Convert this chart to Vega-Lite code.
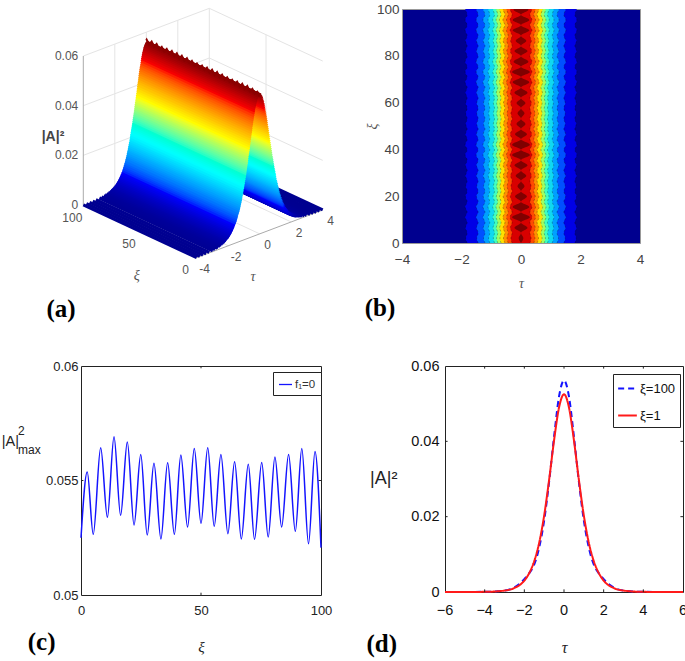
{"$schema":"https://vega.github.io/schema/vega-lite/v6.json","padding":0,"background":"white","spacing":5,
"resolve":{"scale":{"color":"independent","strokeDash":"independent","fill":"independent"},"legend":{"color":"independent","strokeDash":"independent","fill":"independent"}},
"config":{"font":"Liberation Sans","view":{"stroke":null},"axis":{"labelFont":"Liberation Sans","titleFont":"Liberation Serif","titleFontStyle":"italic","titleFontWeight":"normal","grid":false,"domain":false,"ticks":false,"labelFlush":false,"labelOverlap":false}},
"datasets":{
"surface":[{"tau":4.0,"amp":0.00004},{"tau":3.8,"amp":0.00006},{"tau":3.6,"amp":0.00008},{"tau":3.4,"amp":0.00014},{"tau":3.2,"amp":0.00022},{"tau":2.98,"amp":0.00037},{"tau":2.84,"amp":0.0005},{"tau":2.7,"amp":0.00067},{"tau":2.62,"amp":0.00082},{"tau":2.51,"amp":0.00101},{"tau":2.42,"amp":0.00125},{"tau":2.33,"amp":0.00149},{"tau":2.26,"amp":0.00174},{"tau":2.19,"amp":0.002},{"tau":2.12,"amp":0.00234},{"tau":2.05,"amp":0.00269},{"tau":1.98,"amp":0.00304},{"tau":1.93,"amp":0.00339},{"tau":1.875,"amp":0.00383},{"tau":1.82,"amp":0.00427},{"tau":1.775,"amp":0.00472},{"tau":1.73,"amp":0.00517},{"tau":1.685,"amp":0.0057},{"tau":1.64,"amp":0.00624},{"tau":1.59,"amp":0.00689},{"tau":1.54,"amp":0.00754},{"tau":1.5,"amp":0.00815},{"tau":1.47,"amp":0.00875},{"tau":1.43,"amp":0.00943},{"tau":1.4,"amp":0.01012},{"tau":1.36,"amp":0.0109},{"tau":1.32,"amp":0.01168},{"tau":1.29,"amp":0.01233},{"tau":1.26,"amp":0.01299},{"tau":1.235,"amp":0.0137},{"tau":1.21,"amp":0.01442},{"tau":1.185,"amp":0.01506},{"tau":1.16,"amp":0.0157},{"tau":1.14,"amp":0.01639},{"tau":1.12,"amp":0.01708},{"tau":1.095,"amp":0.01781},{"tau":1.07,"amp":0.01855},{"tau":1.045,"amp":0.01942},{"tau":1.02,"amp":0.0203},{"tau":1.005,"amp":0.02095},{"tau":0.99,"amp":0.0216},{"tau":0.97,"amp":0.02227},{"tau":0.95,"amp":0.02294},{"tau":0.93,"amp":0.02365},{"tau":0.91,"amp":0.02436},{"tau":0.89,"amp":0.02509},{"tau":0.87,"amp":0.02582},{"tau":0.855,"amp":0.02658},{"tau":0.84,"amp":0.02734},{"tau":0.82,"amp":0.02812},{"tau":0.8,"amp":0.0289},{"tau":0.78,"amp":0.02971},{"tau":0.76,"amp":0.03052},{"tau":0.745,"amp":0.03134},{"tau":0.73,"amp":0.03217},{"tau":0.71,"amp":0.033},{"tau":0.69,"amp":0.03382},{"tau":0.67,"amp":0.03468},{"tau":0.65,"amp":0.03554},{"tau":0.63,"amp":0.03639},{"tau":0.61,"amp":0.03724},{"tau":0.595,"amp":0.03811},{"tau":0.58,"amp":0.03898},{"tau":0.56,"amp":0.03985},{"tau":0.54,"amp":0.04071},{"tau":0.52,"amp":0.04155},{"tau":0.5,"amp":0.04239},{"tau":0.485,"amp":0.04322},{"tau":0.47,"amp":0.04404},{"tau":0.45,"amp":0.04484},{"tau":0.43,"amp":0.04564},{"tau":0.41,"amp":0.04645},{"tau":0.39,"amp":0.04726},{"tau":0.365,"amp":0.04812},{"tau":0.34,"amp":0.04897},{"tau":0.32,"amp":0.04981},{"tau":0.3,"amp":0.05065},{"tau":0.275,"amp":0.05138},{"tau":0.25,"amp":0.05211},{"tau":0.225,"amp":0.05274},{"tau":0.2,"amp":0.05337},{"tau":0.175,"amp":0.05398},{"tau":0.15,"amp":0.05459},{"tau":0.11,"amp":0.05512},{"tau":0.07,"amp":0.05564},{"tau":0.035,"amp":0.05582},{"tau":0,"amp":0.056},{"tau":-0.035,"amp":0.05582},{"tau":-0.07,"amp":0.05564},{"tau":-0.11,"amp":0.05512},{"tau":-0.15,"amp":0.05459},{"tau":-0.175,"amp":0.05398},{"tau":-0.2,"amp":0.05337},{"tau":-0.225,"amp":0.05274},{"tau":-0.25,"amp":0.05211},{"tau":-0.275,"amp":0.05138},{"tau":-0.3,"amp":0.05065},{"tau":-0.32,"amp":0.04981},{"tau":-0.34,"amp":0.04897},{"tau":-0.365,"amp":0.04812},{"tau":-0.39,"amp":0.04726},{"tau":-0.41,"amp":0.04645},{"tau":-0.43,"amp":0.04564},{"tau":-0.45,"amp":0.04484},{"tau":-0.47,"amp":0.04404},{"tau":-0.485,"amp":0.04322},{"tau":-0.5,"amp":0.04239},{"tau":-0.52,"amp":0.04155},{"tau":-0.54,"amp":0.04071},{"tau":-0.56,"amp":0.03985},{"tau":-0.58,"amp":0.03898},{"tau":-0.595,"amp":0.03811},{"tau":-0.61,"amp":0.03724},{"tau":-0.63,"amp":0.03639},{"tau":-0.65,"amp":0.03554},{"tau":-0.67,"amp":0.03468},{"tau":-0.69,"amp":0.03382},{"tau":-0.71,"amp":0.033},{"tau":-0.73,"amp":0.03217},{"tau":-0.745,"amp":0.03134},{"tau":-0.76,"amp":0.03052},{"tau":-0.78,"amp":0.02971},{"tau":-0.8,"amp":0.0289},{"tau":-0.82,"amp":0.02812},{"tau":-0.84,"amp":0.02734},{"tau":-0.855,"amp":0.02658},{"tau":-0.87,"amp":0.02582},{"tau":-0.89,"amp":0.02509},{"tau":-0.91,"amp":0.02436},{"tau":-0.93,"amp":0.02365},{"tau":-0.95,"amp":0.02294},{"tau":-0.97,"amp":0.02227},{"tau":-0.99,"amp":0.0216},{"tau":-1.005,"amp":0.02095},{"tau":-1.02,"amp":0.0203},{"tau":-1.045,"amp":0.01942},{"tau":-1.07,"amp":0.01855},{"tau":-1.095,"amp":0.01781},{"tau":-1.12,"amp":0.01708},{"tau":-1.14,"amp":0.01639},{"tau":-1.16,"amp":0.0157},{"tau":-1.185,"amp":0.01506},{"tau":-1.21,"amp":0.01442},{"tau":-1.235,"amp":0.0137},{"tau":-1.26,"amp":0.01299},{"tau":-1.29,"amp":0.01233},{"tau":-1.32,"amp":0.01168},{"tau":-1.36,"amp":0.0109},{"tau":-1.4,"amp":0.01012},{"tau":-1.43,"amp":0.00943},{"tau":-1.47,"amp":0.00875},{"tau":-1.5,"amp":0.00815},{"tau":-1.54,"amp":0.00754},{"tau":-1.59,"amp":0.00689},{"tau":-1.64,"amp":0.00624},{"tau":-1.685,"amp":0.0057},{"tau":-1.73,"amp":0.00517},{"tau":-1.775,"amp":0.00472},{"tau":-1.82,"amp":0.00427},{"tau":-1.875,"amp":0.00383},{"tau":-1.93,"amp":0.00339},{"tau":-1.98,"amp":0.00304},{"tau":-2.05,"amp":0.00269},{"tau":-2.12,"amp":0.00234},{"tau":-2.19,"amp":0.002},{"tau":-2.26,"amp":0.00174},{"tau":-2.33,"amp":0.00149},{"tau":-2.42,"amp":0.00125},{"tau":-2.51,"amp":0.00101},{"tau":-2.62,"amp":0.00082},{"tau":-2.7,"amp":0.00067},{"tau":-2.84,"amp":0.0005},{"tau":-2.98,"amp":0.00037},{"tau":-3.2,"amp":0.00022},{"tau":-3.4,"amp":0.00014},{"tau":-3.6,"amp":0.00008},{"tau":-3.8,"amp":0.00006},{"tau":-4.0,"amp":0.00004}],
"ripple":[
{"xi":0,"crest":0.0556,"c1":1.81,"c2":1.44,"c3":1.21,"c4":1.05,"c5":0.89,"c6":0.78,"c7":0.67,"c8":0.54,"c9":0.43,"c10":0.3,"c11":0},
{"xi":2.1,"crest":0.0568,"c1":1.86,"c2":1.49,"c3":1.26,"c4":1.09,"c5":0.93,"c6":0.82,"c7":0.71,"c8":0.59,"c9":0.47,"c10":0.34,"c11":0.08},
{"xi":4.3,"crest":0.0556,"c1":1.81,"c2":1.44,"c3":1.21,"c4":1.05,"c5":0.89,"c6":0.78,"c7":0.67,"c8":0.54,"c9":0.43,"c10":0.3,"c11":0},
{"xi":6.5,"crest":0.057,"c1":1.87,"c2":1.5,"c3":1.27,"c4":1.1,"c5":0.94,"c6":0.83,"c7":0.72,"c8":0.6,"c9":0.48,"c10":0.36,"c11":0.22},
{"xi":8.8,"crest":0.0556,"c1":1.81,"c2":1.44,"c3":1.21,"c4":1.05,"c5":0.89,"c6":0.78,"c7":0.67,"c8":0.54,"c9":0.43,"c10":0.3,"c11":0},
{"xi":11,"crest":0.0572,"c1":1.88,"c2":1.51,"c3":1.28,"c4":1.11,"c5":0.95,"c6":0.84,"c7":0.73,"c8":0.61,"c9":0.49,"c10":0.37,"c11":0.3},
{"xi":13.2,"crest":0.0556,"c1":1.81,"c2":1.44,"c3":1.21,"c4":1.05,"c5":0.89,"c6":0.78,"c7":0.67,"c8":0.54,"c9":0.43,"c10":0.3,"c11":0},
{"xi":15.4,"crest":0.0572,"c1":1.88,"c2":1.51,"c3":1.28,"c4":1.11,"c5":0.95,"c6":0.84,"c7":0.73,"c8":0.61,"c9":0.49,"c10":0.37,"c11":0.28},
{"xi":17.6,"crest":0.0556,"c1":1.81,"c2":1.44,"c3":1.21,"c4":1.05,"c5":0.89,"c6":0.78,"c7":0.67,"c8":0.54,"c9":0.43,"c10":0.3,"c11":0},
{"xi":19.9,"crest":0.0571,"c1":1.87,"c2":1.5,"c3":1.27,"c4":1.1,"c5":0.94,"c6":0.83,"c7":0.72,"c8":0.6,"c9":0.48,"c10":0.36,"c11":0.2},
{"xi":22.1,"crest":0.0556,"c1":1.81,"c2":1.44,"c3":1.21,"c4":1.05,"c5":0.89,"c6":0.78,"c7":0.67,"c8":0.54,"c9":0.43,"c10":0.3,"c11":0},
{"xi":24.3,"crest":0.0569,"c1":1.86,"c2":1.49,"c3":1.26,"c4":1.09,"c5":0.93,"c6":0.82,"c7":0.71,"c8":0.59,"c9":0.47,"c10":0.34,"c11":0.12},
{"xi":26.5,"crest":0.0556,"c1":1.81,"c2":1.44,"c3":1.21,"c4":1.05,"c5":0.89,"c6":0.78,"c7":0.67,"c8":0.54,"c9":0.43,"c10":0.3,"c11":0},
{"xi":28.7,"crest":0.057,"c1":1.87,"c2":1.5,"c3":1.27,"c4":1.1,"c5":0.94,"c6":0.83,"c7":0.72,"c8":0.6,"c9":0.48,"c10":0.35,"c11":0.18},
{"xi":31,"crest":0.0556,"c1":1.81,"c2":1.44,"c3":1.21,"c4":1.05,"c5":0.89,"c6":0.78,"c7":0.67,"c8":0.54,"c9":0.43,"c10":0.3,"c11":0},
{"xi":33.2,"crest":0.0571,"c1":1.87,"c2":1.5,"c3":1.27,"c4":1.1,"c5":0.94,"c6":0.83,"c7":0.72,"c8":0.6,"c9":0.48,"c10":0.36,"c11":0.22},
{"xi":35.4,"crest":0.0556,"c1":1.81,"c2":1.44,"c3":1.21,"c4":1.05,"c5":0.89,"c6":0.78,"c7":0.67,"c8":0.54,"c9":0.43,"c10":0.3,"c11":0},
{"xi":37.6,"crest":0.0572,"c1":1.88,"c2":1.51,"c3":1.28,"c4":1.11,"c5":0.95,"c6":0.84,"c7":0.73,"c8":0.61,"c9":0.49,"c10":0.37,"c11":0.3},
{"xi":39.8,"crest":0.0556,"c1":1.81,"c2":1.44,"c3":1.21,"c4":1.05,"c5":0.89,"c6":0.78,"c7":0.67,"c8":0.54,"c9":0.43,"c10":0.3,"c11":0},
{"xi":42,"crest":0.0572,"c1":1.88,"c2":1.51,"c3":1.28,"c4":1.11,"c5":0.95,"c6":0.84,"c7":0.73,"c8":0.61,"c9":0.49,"c10":0.37,"c11":0.3},
{"xi":44.3,"crest":0.0556,"c1":1.81,"c2":1.44,"c3":1.21,"c4":1.05,"c5":0.89,"c6":0.78,"c7":0.67,"c8":0.54,"c9":0.43,"c10":0.3,"c11":0},
{"xi":46.5,"crest":0.0571,"c1":1.87,"c2":1.5,"c3":1.27,"c4":1.1,"c5":0.94,"c6":0.83,"c7":0.72,"c8":0.6,"c9":0.48,"c10":0.36,"c11":0.2},
{"xi":48.7,"crest":0.0556,"c1":1.81,"c2":1.44,"c3":1.21,"c4":1.05,"c5":0.89,"c6":0.78,"c7":0.67,"c8":0.54,"c9":0.43,"c10":0.3,"c11":0},
{"xi":50.9,"crest":0.057,"c1":1.86,"c2":1.49,"c3":1.26,"c4":1.09,"c5":0.93,"c6":0.82,"c7":0.71,"c8":0.59,"c9":0.47,"c10":0.35,"c11":0.15},
{"xi":53.1,"crest":0.0556,"c1":1.81,"c2":1.44,"c3":1.21,"c4":1.05,"c5":0.89,"c6":0.78,"c7":0.67,"c8":0.54,"c9":0.43,"c10":0.3,"c11":0},
{"xi":55.4,"crest":0.0569,"c1":1.86,"c2":1.49,"c3":1.26,"c4":1.09,"c5":0.93,"c6":0.82,"c7":0.71,"c8":0.59,"c9":0.47,"c10":0.34,"c11":0.12},
{"xi":57.6,"crest":0.0556,"c1":1.81,"c2":1.44,"c3":1.21,"c4":1.05,"c5":0.89,"c6":0.78,"c7":0.67,"c8":0.54,"c9":0.43,"c10":0.3,"c11":0},
{"xi":59.8,"crest":0.057,"c1":1.86,"c2":1.49,"c3":1.26,"c4":1.09,"c5":0.93,"c6":0.82,"c7":0.71,"c8":0.59,"c9":0.47,"c10":0.35,"c11":0.15},
{"xi":62,"crest":0.0556,"c1":1.81,"c2":1.44,"c3":1.21,"c4":1.05,"c5":0.89,"c6":0.78,"c7":0.67,"c8":0.54,"c9":0.43,"c10":0.3,"c11":0},
{"xi":64.2,"crest":0.0571,"c1":1.87,"c2":1.5,"c3":1.27,"c4":1.1,"c5":0.94,"c6":0.83,"c7":0.72,"c8":0.6,"c9":0.48,"c10":0.36,"c11":0.22},
{"xi":66.4,"crest":0.0556,"c1":1.81,"c2":1.44,"c3":1.21,"c4":1.05,"c5":0.89,"c6":0.78,"c7":0.67,"c8":0.54,"c9":0.43,"c10":0.3,"c11":0},
{"xi":68.7,"crest":0.0572,"c1":1.88,"c2":1.51,"c3":1.28,"c4":1.11,"c5":0.95,"c6":0.84,"c7":0.73,"c8":0.61,"c9":0.49,"c10":0.37,"c11":0.28},
{"xi":70.9,"crest":0.0556,"c1":1.81,"c2":1.44,"c3":1.21,"c4":1.05,"c5":0.89,"c6":0.78,"c7":0.67,"c8":0.54,"c9":0.43,"c10":0.3,"c11":0},
{"xi":73.1,"crest":0.0572,"c1":1.88,"c2":1.51,"c3":1.28,"c4":1.11,"c5":0.95,"c6":0.84,"c7":0.73,"c8":0.61,"c9":0.49,"c10":0.37,"c11":0.3},
{"xi":75.3,"crest":0.0556,"c1":1.81,"c2":1.44,"c3":1.21,"c4":1.05,"c5":0.89,"c6":0.78,"c7":0.67,"c8":0.54,"c9":0.43,"c10":0.3,"c11":0},
{"xi":77.5,"crest":0.0572,"c1":1.88,"c2":1.51,"c3":1.28,"c4":1.11,"c5":0.95,"c6":0.84,"c7":0.73,"c8":0.61,"c9":0.49,"c10":0.37,"c11":0.25},
{"xi":79.8,"crest":0.0556,"c1":1.81,"c2":1.44,"c3":1.21,"c4":1.05,"c5":0.89,"c6":0.78,"c7":0.67,"c8":0.54,"c9":0.43,"c10":0.3,"c11":0},
{"xi":82,"crest":0.0571,"c1":1.87,"c2":1.5,"c3":1.27,"c4":1.1,"c5":0.94,"c6":0.83,"c7":0.72,"c8":0.6,"c9":0.48,"c10":0.36,"c11":0.22},
{"xi":84.2,"crest":0.0556,"c1":1.81,"c2":1.44,"c3":1.21,"c4":1.05,"c5":0.89,"c6":0.78,"c7":0.67,"c8":0.54,"c9":0.43,"c10":0.3,"c11":0},
{"xi":86.4,"crest":0.057,"c1":1.87,"c2":1.5,"c3":1.27,"c4":1.1,"c5":0.94,"c6":0.83,"c7":0.72,"c8":0.6,"c9":0.48,"c10":0.35,"c11":0.18},
{"xi":88.6,"crest":0.0556,"c1":1.81,"c2":1.44,"c3":1.21,"c4":1.05,"c5":0.89,"c6":0.78,"c7":0.67,"c8":0.54,"c9":0.43,"c10":0.3,"c11":0},
{"xi":90.9,"crest":0.0572,"c1":1.88,"c2":1.51,"c3":1.28,"c4":1.11,"c5":0.95,"c6":0.84,"c7":0.73,"c8":0.61,"c9":0.49,"c10":0.37,"c11":0.28},
{"xi":93.1,"crest":0.0556,"c1":1.81,"c2":1.44,"c3":1.21,"c4":1.05,"c5":0.89,"c6":0.78,"c7":0.67,"c8":0.54,"c9":0.43,"c10":0.3,"c11":0},
{"xi":95.3,"crest":0.0572,"c1":1.88,"c2":1.51,"c3":1.28,"c4":1.11,"c5":0.95,"c6":0.84,"c7":0.73,"c8":0.61,"c9":0.49,"c10":0.37,"c11":0.28},
{"xi":97.5,"crest":0.0556,"c1":1.81,"c2":1.44,"c3":1.21,"c4":1.05,"c5":0.89,"c6":0.78,"c7":0.67,"c8":0.54,"c9":0.43,"c10":0.3,"c11":0},
{"xi":99.7,"crest":0.0571,"c1":1.87,"c2":1.5,"c3":1.27,"c4":1.1,"c5":0.94,"c6":0.83,"c7":0.72,"c8":0.6,"c9":0.48,"c10":0.36,"c11":0.25},
{"xi":100,"crest":0.0568,"c1":1.87,"c2":1.5,"c3":1.27,"c4":1.1,"c5":0.94,"c6":0.83,"c7":0.72,"c8":0.6,"c9":0.48,"c10":0.36,"c11":0.24}],
"maxima":[{"xi":0,"peak":0.0525},{"xi":2.6,"peak":0.05537},{"xi":5.1,"peak":0.05265},{"xi":8.2,"peak":0.05643},{"xi":11,"peak":0.05339},{"xi":13.75,"peak":0.05691},{"xi":16.5,"peak":0.05348},{"xi":19.3,"peak":0.05668},{"xi":22.1,"peak":0.05306},{"xi":24.9,"peak":0.05613},{"xi":27.6,"peak":0.05262},{"xi":30.4,"peak":0.05575},{"xi":33.3,"peak":0.05245},{"xi":36.1,"peak":0.05578},{"xi":38.9,"peak":0.05265},{"xi":41.6,"peak":0.05611},{"xi":44.4,"peak":0.05297},{"xi":47.2,"peak":0.0564},{"xi":50,"peak":0.05313},{"xi":52.8,"peak":0.05643},{"xi":55.5,"peak":0.053},{"xi":58.3,"peak":0.05614},{"xi":61.2,"peak":0.05268},{"xi":64,"peak":0.05582},{"xi":66.8,"peak":0.05245},{"xi":69.7,"peak":0.05571},{"xi":72.3,"peak":0.05243},{"xi":75.3,"peak":0.05579},{"xi":78,"peak":0.05253},{"xi":80.8,"peak":0.05603},{"xi":83.6,"peak":0.05297},{"xi":86.5,"peak":0.05613},{"xi":89.3,"peak":0.05278},{"xi":92,"peak":0.0564},{"xi":94.8,"peak":0.05224},{"xi":97.5,"peak":0.05627},{"xi":100,"peak":0.05207}],
"profiles":[{"tau":-6,"s":"ξ=100","a":0},{"tau":-4,"s":"ξ=100","a":0.00005},{"tau":-3,"s":"ξ=100","a":0.0004},{"tau":-2.5,"s":"ξ=100","a":0.0012},{"tau":-2,"s":"ξ=100","a":0.0034},{"tau":-1.75,"s":"ξ=100","a":0.005},{"tau":-1.5,"s":"ξ=100","a":0.0073},{"tau":-1.25,"s":"ξ=100","a":0.0118},{"tau":-1,"s":"ξ=100","a":0.019},{"tau":-0.75,"s":"ξ=100","a":0.0293},{"tau":-0.5,"s":"ξ=100","a":0.0413},{"tau":-0.25,"s":"ξ=100","a":0.0519},{"tau":0,"s":"ξ=100","a":0.0562},{"tau":0.25,"s":"ξ=100","a":0.0519},{"tau":0.5,"s":"ξ=100","a":0.0413},{"tau":0.75,"s":"ξ=100","a":0.0293},{"tau":1,"s":"ξ=100","a":0.019},{"tau":1.25,"s":"ξ=100","a":0.0118},{"tau":1.5,"s":"ξ=100","a":0.0073},{"tau":1.75,"s":"ξ=100","a":0.005},{"tau":2,"s":"ξ=100","a":0.0034},{"tau":2.5,"s":"ξ=100","a":0.0012},{"tau":3,"s":"ξ=100","a":0.0004},{"tau":4,"s":"ξ=100","a":0.00005},{"tau":6,"s":"ξ=100","a":0},
{"tau":-6,"s":"ξ=1","a":0},{"tau":-4,"s":"ξ=1","a":0.00004},{"tau":-3,"s":"ξ=1","a":0.00038},{"tau":-2.5,"s":"ξ=1","a":0.00107},{"tau":-2,"s":"ξ=1","a":0.00302},{"tau":-1.75,"s":"ξ=1","a":0.00505},{"tau":-1.5,"s":"ξ=1","a":0.0082},{"tau":-1.25,"s":"ξ=1","a":0.0131},{"tau":-1,"s":"ξ=1","a":0.0203},{"tau":-0.75,"s":"ξ=1","a":0.0298},{"tau":-0.5,"s":"ξ=1","a":0.0403},{"tau":-0.25,"s":"ξ=1","a":0.049},{"tau":0,"s":"ξ=1","a":0.0525},{"tau":0.25,"s":"ξ=1","a":0.049},{"tau":0.5,"s":"ξ=1","a":0.0403},{"tau":0.75,"s":"ξ=1","a":0.0298},{"tau":1,"s":"ξ=1","a":0.0203},{"tau":1.25,"s":"ξ=1","a":0.0131},{"tau":1.5,"s":"ξ=1","a":0.0082},{"tau":1.75,"s":"ξ=1","a":0.00505},{"tau":2,"s":"ξ=1","a":0.00302},{"tau":2.5,"s":"ξ=1","a":0.00107},{"tau":3,"s":"ξ=1","a":0.00038},{"tau":4,"s":"ξ=1","a":0.00004},{"tau":6,"s":"ξ=1","a":0}],
"xlabelsd":[{"v":-6},{"v":-4},{"v":-2},{"v":0},{"v":2},{"v":4},{"v":6}],
"ticksc":[{"x":50,"x2":50,"y":0.05,"y2":0.0501},{"x":50,"x2":50,"y":0.06,"y2":0.0599},{"x":0,"x2":1,"y":0.055,"y2":0.055},{"x":100,"x2":99,"y":0.055,"y2":0.055}],
"ticksd":[{"x":-4,"x2":-4,"y":0,"y2":0.0007},{"x":-2,"x2":-2,"y":0,"y2":0.0007},{"x":0,"x2":0,"y":0,"y2":0.0007},{"x":2,"x2":2,"y":0,"y2":0.0007},{"x":4,"x2":4,"y":0,"y2":0.0007},{"x":-4,"x2":-4,"y":0.06,"y2":0.0593},{"x":-2,"x2":-2,"y":0.06,"y2":0.0593},{"x":0,"x2":0,"y":0.06,"y2":0.0593},{"x":2,"x2":2,"y":0.06,"y2":0.0593},{"x":4,"x2":4,"y":0.06,"y2":0.0593},{"x":-6,"x2":-5.87,"y":0.02,"y2":0.02},{"x":-6,"x2":-5.87,"y":0.04,"y2":0.04},{"x":6,"x2":5.87,"y":0.02,"y2":0.02},{"x":6,"x2":5.87,"y":0.04,"y2":0.04}],
"walls":[{"t1":-4,"x1":100,"a1":0.02,"t2":4,"x2":100,"a2":0.02},{"t1":-4,"x1":100,"a1":0.04,"t2":4,"x2":100,"a2":0.04},{"t1":-4,"x1":100,"a1":0.06,"t2":4,"x2":100,"a2":0.06},{"t1":-2,"x1":100,"a1":0,"t2":-2,"x2":100,"a2":0.06},{"t1":0,"x1":100,"a1":0,"t2":0,"x2":100,"a2":0.06},{"t1":2,"x1":100,"a1":0,"t2":2,"x2":100,"a2":0.06},{"t1":4,"x1":100,"a1":0,"t2":4,"x2":100,"a2":0.06},{"t1":4,"x1":100,"a1":0.02,"t2":4,"x2":0,"a2":0.02},{"t1":4,"x1":100,"a1":0.04,"t2":4,"x2":0,"a2":0.04},{"t1":4,"x1":100,"a1":0.06,"t2":4,"x2":0,"a2":0.06},{"t1":4,"x1":50,"a1":0,"t2":4,"x2":50,"a2":0.06},{"t1":-2,"x1":0,"a1":0,"t2":-2,"x2":100,"a2":0},{"t1":0,"x1":0,"a1":0,"t2":0,"x2":100,"a2":0},{"t1":2,"x1":0,"a1":0,"t2":2,"x2":100,"a2":0},{"t1":-4,"x1":50,"a1":0,"t2":4,"x2":50,"a2":0}],
"edges":[{"t1":-4,"x1":100,"a1":0,"t2":-4,"x2":100,"a2":0.06},{"t1":-4,"x1":0,"a1":0,"t2":4,"x2":0,"a2":0}],
"ticks3d":[{"t":"0.06","tau":-4,"xi":100,"amp":0.06},{"t":"0.04","tau":-4,"xi":100,"amp":0.04},{"t":"0.02","tau":-4,"xi":100,"amp":0.02},{"t":"0","tau":-4,"xi":100,"amp":0}],
"xiticks3d":[{"t":"100","tau":-4,"xi":100,"amp":0},{"t":"50","tau":-4,"xi":50,"amp":0},{"t":"0","tau":-4,"xi":0,"amp":0}],
"tauticks3d":[{"t":"-4","tau":-4,"xi":0,"amp":0},{"t":"-2","tau":-2,"xi":0,"amp":0},{"t":"0","tau":0,"xi":0,"amp":0},{"t":"2","tau":2,"xi":0,"amp":0},{"t":"4","tau":4,"xi":0,"amp":0}],
"titles3d":[{"t":"τ","tau":-3.48,"xi":-42.5,"amp":0},{"t":"ξ","tau":-7.48,"xi":4.6,"amp":0}]
},
"vconcat":[
{"bounds":"flush","spacing":81,"hconcat":[
{"width":240,"height":234,"view":{"stroke":null},
"layer":[
{"data":{"values":[{}]},"mark":{"type":"rule","opacity":0,"strokeWidth":0},"encoding":{"x":{"datum":0,"scale":{"domain":[80,320],"nice":false,"zero":false},"axis":null},"y":{"datum":0,"scale":{"domain":[243,9],"nice":false,"zero":false},"axis":null},"y2":{"datum":340}}},
{"data":{"name":"walls"},"transform":[{"calculate":"195.7+(datum.t1+4)*15.75-datum.x1*1.134","as":"sx1"},{"calculate":"257.7-(datum.t1+4)*5.96-datum.x1*0.527-datum.a1*2483","as":"sy1"},{"calculate":"195.7+(datum.t2+4)*15.75-datum.x2*1.134","as":"sx2"},{"calculate":"257.7-(datum.t2+4)*5.96-datum.x2*0.527-datum.a2*2483","as":"sy2"}],"mark":{"type":"rule","stroke":"#e4e4e4","strokeWidth":1},"encoding":{"x":{"field":"sx1","type":"quantitative"},"y":{"field":"sy1","type":"quantitative"},"x2":{"field":"sx2"},"y2":{"field":"sy2"}}},
{"data":{"name":"edges"},"transform":[{"calculate":"195.7+(datum.t1+4)*15.75-datum.x1*1.134","as":"sx1"},{"calculate":"257.7-(datum.t1+4)*5.96-datum.x1*0.527-datum.a1*2483","as":"sy1"},{"calculate":"195.7+(datum.t2+4)*15.75-datum.x2*1.134","as":"sx2"},{"calculate":"257.7-(datum.t2+4)*5.96-datum.x2*0.527-datum.a2*2483","as":"sy2"}],"mark":{"type":"rule","stroke":"#aaaaaa","strokeWidth":1},"encoding":{"x":{"field":"sx1","type":"quantitative"},"y":{"field":"sy1","type":"quantitative"},"x2":{"field":"sx2"},"y2":{"field":"sy2"}}},
{"data":{"name":"surface"},"transform":[{"calculate":"195.7+(datum.tau+4)*15.75","as":"sx1"},{"calculate":"257.7-(datum.tau+4)*5.96-datum.amp*2483","as":"sy1"},{"calculate":"datum.sx1-113.4","as":"sx2"},{"calculate":"datum.sy1-52.7","as":"sy2"}],"mark":{"type":"rule","strokeWidth":3.2,"strokeCap":"butt"},"encoding":{"x":{"field":"sx1","type":"quantitative"},"y":{"field":"sy1","type":"quantitative"},"x2":{"field":"sx2"},"y2":{"field":"sy2"},"color":{"field":"amp","type":"quantitative","legend":null,"scale":{"domain":[0,0.00706,0.0212,0.0353,0.0494,0.0565],"range":["#00008f","#0000ff","#00ffff","#ffff00","#ff0000","#800000"]}}}},
{"data":{"name":"ripple"},"transform":[{"calculate":"195.7+63-datum.xi*1.134","as":"sx"},{"calculate":"233.9-datum.xi*0.527-datum.crest*2483","as":"sy"}],"mark":{"type":"line","stroke":"#8a0000","strokeWidth":2},"encoding":{"x":{"field":"sx","type":"quantitative"},"y":{"field":"sy","type":"quantitative"},"order":{"field":"xi"}}},
{"data":{"name":"ticks3d"},"transform":[{"calculate":"195.7+(datum.tau+4)*15.75-datum.xi*1.134","as":"sx"},{"calculate":"257.7-(datum.tau+4)*5.96-datum.xi*0.527-datum.amp*2483","as":"sy"}],"mark":{"type":"text","align":"right","baseline":"middle","dx":-5,"fontSize":12,"fill":"#555"},"encoding":{"x":{"field":"sx","type":"quantitative"},"y":{"field":"sy","type":"quantitative"},"text":{"field":"t"}}},
{"data":{"name":"xiticks3d"},"transform":[{"calculate":"195.7+(datum.tau+4)*15.75-datum.xi*1.134","as":"sx"},{"calculate":"257.7-(datum.tau+4)*5.96-datum.xi*0.527-datum.amp*2483","as":"sy"}],"mark":{"type":"text","align":"center","baseline":"middle","dx":-11,"dy":12.5,"fontSize":12,"fill":"#555"},"encoding":{"x":{"field":"sx","type":"quantitative"},"y":{"field":"sy","type":"quantitative"},"text":{"field":"t"}}},
{"data":{"name":"tauticks3d"},"transform":[{"calculate":"195.7+(datum.tau+4)*15.75-datum.xi*1.134","as":"sx"},{"calculate":"257.7-(datum.tau+4)*5.96-datum.xi*0.527-datum.amp*2483","as":"sy"}],"mark":{"type":"text","align":"center","baseline":"middle","dx":8,"dy":11,"fontSize":12,"fill":"#555"},"encoding":{"x":{"field":"sx","type":"quantitative"},"y":{"field":"sy","type":"quantitative"},"text":{"field":"t"}}},
{"data":{"name":"titles3d"},"transform":[{"calculate":"195.7+(datum.tau+4)*15.75-datum.xi*1.134","as":"sx"},{"calculate":"257.7-(datum.tau+4)*5.96-datum.xi*0.527-datum.amp*2483","as":"sy"}],"mark":{"type":"text","align":"center","baseline":"middle","font":"Liberation Serif","fontStyle":"italic","fontSize":14,"fill":"#555"},"encoding":{"x":{"field":"sx","type":"quantitative"},"y":{"field":"sy","type":"quantitative"},"text":{"field":"t"}}},
{"data":{"values":[{}]},"mark":{"type":"text","align":"center","baseline":"middle","fontSize":14,"fontWeight":"bold","fill":"#444"},"encoding":{"x":{"datum":52},"y":{"datum":137},"text":{"value":"|A|²"}}},
{"data":{"values":[{}]},"mark":{"type":"text","align":"center","baseline":"middle","font":"Liberation Serif","fontWeight":"bold","fontSize":25,"fill":"#000"},"encoding":{"x":{"datum":60},"y":{"datum":309},"text":{"value":"(a)"}}}
]},
{"width":238,"height":234,"data":{"name":"ripple"},"view":{"fill":"#00008f","stroke":"#999999"},
"resolve":{"scale":{"x":"independent"}},
"layer":[
{"transform":[{"fold":["c1","c2","c3","c4","c5","c6","c7","c8","c9","c10","c11"],"as":["level","half"]}],"mark":{"type":"area","orient":"horizontal","interpolate":"monotone"},"encoding":{"y":{"field":"xi","type":"quantitative","title":"ξ","scale":{"domain":[0,100],"nice":false},"axis":{"values":[0,20,40,60,80,100],"labelFontSize":13.5,"labelColor":"#444","titleColor":"#555","titleFontSize":14,"titlePadding":-3,"labelPadding":3}},"x":{"field":"half","type":"quantitative","stack":null,"title":"τ","scale":{"domain":[-4,4],"nice":false},"axis":{"values":[-4,-2,0,2,4],"labelFontSize":13.5,"labelColor":"#444","titleColor":"#555","titleFontSize":14,"titlePadding":11,"labelPadding":9}},"x2":{"datum":0},"fill":{"field":"level","type":"nominal","legend":null,"scale":{"domain":["c1","c2","c3","c4","c5","c6","c7","c8","c9","c10","c11"],"range":["#0000e6","#0050ff","#00a0ff","#10d8f0","#40ffc0","#a0ff60","#ffe000","#ff9000","#ff4a00","#d80000","#800000"]}}}},
{"transform":[{"fold":["c1","c2","c3","c4","c5","c6","c7","c8","c9","c10","c11"],"as":["level","half"]}],"mark":{"type":"area","orient":"horizontal","interpolate":"monotone"},"encoding":{"y":{"field":"xi","type":"quantitative"},"x":{"field":"half","type":"quantitative","stack":null,"scale":{"domain":[4,-4],"nice":false},"axis":null},"x2":{"datum":0},"fill":{"field":"level","type":"nominal","legend":null}}},
{"transform":[{"fold":["c1","c2","c3","c4","c5","c6","c7","c8","c9","c10"],"as":["level","half"]}],"mark":{"type":"line","stroke":"#000","strokeWidth":0.5,"strokeOpacity":0.55,"strokeDash":[2,2],"interpolate":"catmull-rom"},"encoding":{"y":{"field":"xi","type":"quantitative"},"x":{"field":"half","type":"quantitative","scale":{"domain":[-4,4],"nice":false},"axis":null},"detail":{"field":"level"},"order":{"field":"xi"}}},
{"transform":[{"fold":["c1","c2","c3","c4","c5","c6","c7","c8","c9","c10"],"as":["level","half"]}],"mark":{"type":"line","stroke":"#000","strokeWidth":0.5,"strokeOpacity":0.55,"strokeDash":[2,2],"interpolate":"catmull-rom"},"encoding":{"y":{"field":"xi","type":"quantitative"},"x":{"field":"half","type":"quantitative","scale":{"domain":[4,-4],"nice":false},"axis":null},"detail":{"field":"level"},"order":{"field":"xi"}}},
{"data":{"values":[{}]},"mark":{"type":"text","align":"center","baseline":"middle","font":"Liberation Serif","fontWeight":"bold","fontSize":25,"fill":"#000"},"encoding":{"x":{"datum":-4.74,"scale":{"domain":[-4,4],"nice":false},"axis":null},"y":{"datum":-27.8},"text":{"value":"(b)"}}}
]}
]},
{"bounds":"flush","spacing":124,
"resolve":{"scale":{"color":"independent","strokeDash":"independent"},"legend":{"color":"independent","strokeDash":"independent"}},
"hconcat":[
{"width":240,"height":229,"view":{"stroke":"#222222"},
"layer":[
{"data":{"name":"maxima"},"mark":{"type":"line","interpolate":"monotone","strokeWidth":1.5},"encoding":{"x":{"field":"xi","type":"quantitative","title":"ξ","scale":{"domain":[0,100],"nice":false},"axis":{"values":[0,50,100],"labelFontSize":13,"labelColor":"#222","labelPadding":9,"titleFontSize":15,"titleColor":"#222","titlePadding":22}},"y":{"field":"peak","type":"quantitative","title":null,"scale":{"domain":[0.05,0.06],"nice":false,"zero":false},"axis":{"values":[0.05,0.055,0.06],"format":"~g","labelFontSize":13,"labelColor":"#222","labelPadding":3}},"color":{"datum":"f₁=0","scale":{"range":["#1414ff"]},"legend":{"orient":"none","legendX":192,"legendY":6,"title":null,"strokeColor":"#222","fillColor":"#fff","padding":5,"labelFontSize":11.5,"labelColor":"#333","labelFont":"Liberation Sans","symbolType":"stroke","symbolSize":170,"symbolStrokeWidth":1.3,"labelOffset":2}}}},
{"data":{"name":"ticksc"},"mark":{"type":"rule","stroke":"#222","strokeWidth":1},"encoding":{"x":{"field":"x","type":"quantitative"},"x2":{"field":"x2"},"y":{"field":"y","type":"quantitative"},"y2":{"field":"y2"}}},
{"data":{"values":[{}]},"mark":{"type":"rule","opacity":0,"strokeWidth":0},"encoding":{"x":{"datum":-33.33},"y":{"datum":0.06087},"y2":{"datum":0.04707}}},
{"data":{"values":[{}]},"mark":{"type":"text","align":"left","baseline":"alphabetic","fontSize":14.5,"fill":"#222"},"encoding":{"x":{"datum":-33},"y":{"datum":0.0565},"text":{"value":"|A|"}}},
{"data":{"values":[{}]},"mark":{"type":"text","align":"left","baseline":"alphabetic","fontSize":12,"fill":"#222"},"encoding":{"x":{"datum":-26.2},"y":{"datum":0.05699},"text":{"value":"2"}}},
{"data":{"values":[{}]},"mark":{"type":"text","align":"left","baseline":"alphabetic","fontSize":12,"fill":"#222"},"encoding":{"x":{"datum":-26.2},"y":{"datum":0.05617},"text":{"value":"max"}}},
{"data":{"values":[{}]},"mark":{"type":"text","align":"center","baseline":"middle","font":"Liberation Serif","fontWeight":"bold","fontSize":25,"fill":"#000"},"encoding":{"x":{"datum":-16.4},"y":{"datum":0.04795},"text":{"value":"(c)"}}}
]},
{"width":238,"height":226,"view":{"stroke":"#222222"},
"layer":[
{"data":{"name":"profiles"},"mark":{"type":"line","interpolate":"monotone","strokeWidth":2},"encoding":{"x":{"field":"tau","type":"quantitative","title":"τ","scale":{"domain":[-6,6],"nice":false},"axis":{"labels":false,"titleFontSize":16,"titleColor":"#222","titlePadding":47}},"y":{"field":"a","type":"quantitative","title":null,"scale":{"domain":[0,0.06],"nice":false},"axis":{"values":[0,0.02,0.04,0.06],"labelOverlap":false,"format":"~g","labelFontSize":14.5,"labelColor":"#111","labelPadding":6}},"color":{"field":"s","type":"nominal","sort":["ξ=100","ξ=1"],"scale":{"domain":["ξ=100","ξ=1"],"range":["#1414ff","#ff1a1a"]},"legend":{"orient":"none","legendX":168,"legendY":8,"title":null,"strokeColor":"#222","fillColor":"#fff","padding":4,"rowPadding":9,"labelFontSize":13,"labelColor":"#111","labelFont":"Liberation Sans","symbolType":"stroke","symbolSize":350,"symbolStrokeWidth":2,"labelOffset":2}},"strokeDash":{"field":"s","type":"nominal","sort":["ξ=100","ξ=1"],"scale":{"domain":["ξ=100","ξ=1"],"range":[[6,4],[1,0]]},"legend":{"orient":"none","legendX":168,"legendY":8,"title":null,"strokeColor":"#222","fillColor":"#fff","padding":4,"rowPadding":9,"labelFontSize":13,"labelColor":"#111","labelFont":"Liberation Sans","symbolType":"stroke","symbolSize":350,"symbolStrokeWidth":2,"labelOffset":2}}}},
{"data":{"name":"ticksd"},"mark":{"type":"rule","stroke":"#222","strokeWidth":1},"encoding":{"x":{"field":"x","type":"quantitative"},"x2":{"field":"x2"},"y":{"field":"y","type":"quantitative"},"y2":{"field":"y2"}}},
{"data":{"name":"xlabelsd"},"mark":{"type":"text","align":"center","baseline":"middle","dy":19,"fontSize":14.5,"fill":"#111"},"encoding":{"x":{"field":"v","type":"quantitative"},"y":{"datum":0},"text":{"field":"v","type":"quantitative","format":"d"}}},
{"data":{"values":[{}]},"mark":{"type":"text","align":"center","baseline":"middle","fontSize":18,"fill":"#222"},"encoding":{"x":{"datum":-9.09},"y":{"datum":0.03},"text":{"value":"|A|²"}}},
{"data":{"values":[{}]},"mark":{"type":"text","align":"center","baseline":"middle","font":"Liberation Serif","fontWeight":"bold","fontSize":25,"fill":"#000"},"encoding":{"x":{"datum":-9.19},"y":{"datum":-0.0138},"text":{"value":"(d)"}}}
]}
]}
]}
